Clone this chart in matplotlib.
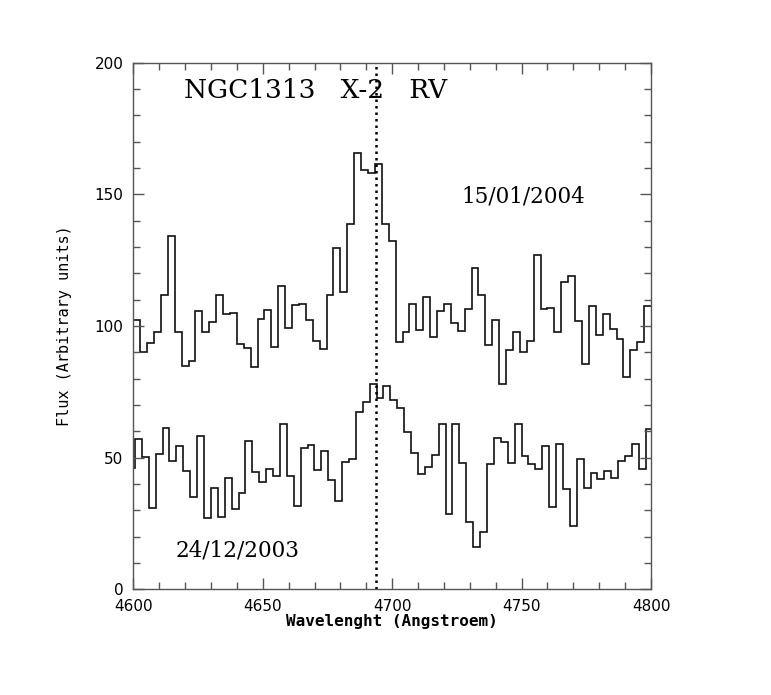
import numpy as np
import matplotlib
matplotlib.use("Agg")
import matplotlib.pyplot as plt
from matplotlib.ticker import MultipleLocator

# spectrum of 15/01/2004 (upper), 75 bins from 4600 to 4800 A
top_first_edge = 4600.0
top_last_edge = 4800.0
flux_top = [
    102.3, 90.2, 93.4, 97.6, 111.8, 134.3, 97.8, 84.8, 86.7, 105.8,
    97.6, 101.6, 111.8, 104.6, 104.9, 93.2, 91.5, 84.3, 102.5, 106.1,
    92.1, 115.3, 99.1, 108.0, 108.3, 102.3, 94.4, 91.3, 111.8, 129.5,
    113.0, 138.6, 165.6, 159.2, 158.2, 161.4, 138.6, 132.3, 94.0, 97.6,
    108.4, 98.5, 110.9, 95.7, 105.8, 108.4, 101.0, 98.2, 106.5, 122.2,
    111.8, 92.9, 102.3, 77.9, 90.9, 97.6, 90.0, 94.4, 127.0, 106.5,
    107.0, 97.6, 116.8, 119.1, 102.0, 85.6, 107.5, 96.6, 104.4, 98.8,
    94.9, 80.5, 90.9, 93.9, 107.5,
]

# spectrum of 24/12/2003 (lower), 76 bins, grid slightly shifted
bot_first_edge = 4597.97
bot_last_edge = 4800.64
flux_bot = [
    46.2, 57.1, 50.4, 31.0, 51.4, 61.4, 48.8, 54.4, 45.0, 35.2,
    58.3, 27.2, 38.3, 27.6, 42.2, 30.5, 36.5, 56.4, 44.7, 40.9,
    45.7, 43.1, 62.7, 43.1, 31.8, 53.5, 54.8, 45.3, 52.6, 41.5,
    33.5, 48.2, 49.4, 67.2, 71.3, 78.0, 72.5, 77.3, 71.9, 68.7,
    59.6, 51.9, 43.7, 46.3, 51.0, 62.8, 28.5, 62.8, 47.9, 25.4,
    16.2, 21.9, 47.5, 57.3, 55.8, 47.9, 62.7, 50.6, 47.5, 45.6,
    54.4, 31.4, 55.1, 38.0, 24.0, 49.4, 38.4, 44.1, 41.9, 44.9,
    42.2, 48.8, 50.6, 55.2, 45.6, 60.9,
]

rest_line = 4693.7
title = "NGC1313   X-2   RV"
label_top = "15/01/2004"
label_bot = "24/12/2003"


def main():
    fig = plt.figure(figsize=(7.71, 6.95), dpi=100)
    ax = fig.add_axes([0.1729, 0.1521, 0.6715, 0.7577])

    edges_top = np.linspace(top_first_edge, top_last_edge, len(flux_top) + 1)
    edges_bot = np.linspace(bot_first_edge, bot_last_edge, len(flux_bot) + 1)

    ax.stairs(flux_top, edges_top, baseline=None, color="#111111", linewidth=1.2)
    ax.stairs(flux_bot, edges_bot, baseline=None, color="#111111", linewidth=1.2)
    ax.axvline(rest_line, color="black", linewidth=1.8, linestyle=(0, (1, 1.6)))

    ax.set_xlim(4600, 4800)
    ax.set_ylim(0, 200)
    ax.xaxis.set_major_locator(MultipleLocator(50))
    ax.xaxis.set_minor_locator(MultipleLocator(10))
    ax.yaxis.set_major_locator(MultipleLocator(50))
    ax.yaxis.set_minor_locator(MultipleLocator(10))
    ax.tick_params(which="both", direction="in", top=True, right=True,
                   color="#555555", width=1.0)
    ax.tick_params(which="major", length=8, labelsize=11, pad=7)
    ax.tick_params(which="minor", length=5)
    for spine in ax.spines.values():
        spine.set_color("#555555")
        spine.set_linewidth(1.0)

    ax.set_xlabel("Wavelenght (Angstroem)", family="DejaVu Sans Mono",
                  fontsize=11.5, fontweight="bold")
    ax.set_ylabel("Flux (Arbitrary units)", family="DejaVu Sans Mono",
                  fontsize=11)
    ax.xaxis.set_label_coords(0.5, -0.047)
    ax.yaxis.set_label_coords(-0.118, 0.5)

    ax.text(4670.4, 189.6, title, family="DejaVu Serif", fontsize=19,
            ha="center", va="center")
    ax.text(4750.6, 149.0, label_top, family="DejaVu Serif", fontsize=15.5,
            ha="center", va="center")
    ax.text(4640.1, 14.9, label_bot, family="DejaVu Serif", fontsize=15.5,
            ha="center", va="center")

    fig.savefig("out.png", dpi=100)
    plt.close(fig)


if __name__ == "__main__":
    main()
